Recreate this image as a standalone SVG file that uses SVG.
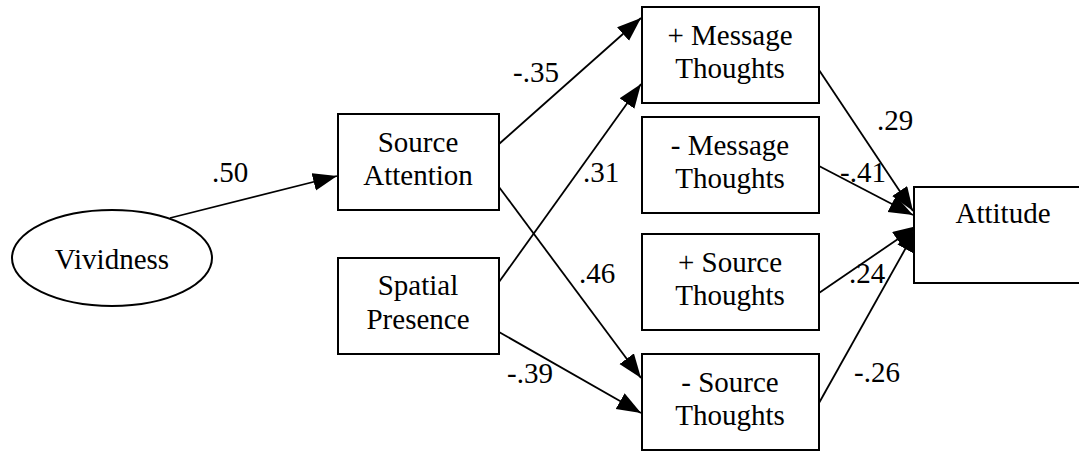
<svg xmlns="http://www.w3.org/2000/svg" width="1079" height="453" viewBox="0 0 1079 453">
<style>
.box{fill:#fff;stroke:#000;stroke-width:2}
text{font-family:'Liberation Serif','Times New Roman',serif;font-size:29px;fill:#000;text-anchor:middle}
.e{fill:none;stroke:#000;stroke-width:1.8}
</style>
<defs>
<marker id="ah" markerUnits="userSpaceOnUse" markerWidth="26" markerHeight="20" refX="24" refY="9" orient="auto">
<path d="M0,0 L24,9 L0,18 z" fill="#000"/>
</marker>
</defs>
<rect width="1079" height="453" fill="#fff"/>
<g id="connectors">
<line class="e" x1="170" y1="218" x2="337" y2="176" marker-end="url(#ah)"/>
<line class="e" x1="499" y1="144" x2="641" y2="18" marker-end="url(#ah)"/>
<line class="e" x1="499" y1="282" x2="641" y2="84" marker-end="url(#ah)"/>
<line class="e" x1="499" y1="187" x2="641" y2="378" marker-end="url(#ah)"/>
<line class="e" x1="499" y1="332" x2="641" y2="413" marker-end="url(#ah)"/>
<line class="e" x1="819" y1="70" x2="913" y2="211" marker-end="url(#ah)"/>
<line class="e" x1="819" y1="166" x2="913" y2="215" marker-end="url(#ah)"/>
<line class="e" x1="819" y1="293" x2="917" y2="226" marker-end="url(#ah)"/>
<line class="e" x1="819" y1="403" x2="917" y2="228" marker-end="url(#ah)"/>
<text x="230" y="182">.50</text>
<text x="536" y="82">-.35</text>
<text x="601" y="182">.31</text>
<text x="597" y="283">.46</text>
<text x="530" y="383">-.39</text>
<text x="895" y="130">.29</text>
<text x="863" y="182">-.41</text>
<text x="867" y="283">.24</text>
<text x="877" y="382">-.26</text>
</g>
<g id="vividness">
<ellipse cx="112" cy="258" rx="100" ry="48" fill="#fff" stroke="#000" stroke-width="2"/>
<text x="112" y="269">Vividness</text>
</g>
<g id="source-attention">
<rect class="box" x="338" y="114" width="161" height="96"/>
<text x="418" y="152">Source</text>
<text x="418" y="185">Attention</text>
</g>
<g id="spatial-presence">
<rect class="box" x="338" y="258" width="161" height="96"/>
<text x="418" y="295">Spatial</text>
<text x="418" y="329">Presence</text>
</g>
<g id="pos-message">
<rect class="box" x="642" y="7" width="177" height="96"/>
<text x="730" y="45">+ Message</text>
<text x="730" y="78">Thoughts</text>
</g>
<g id="neg-message">
<rect class="box" x="642" y="117" width="177" height="96"/>
<text x="730" y="155">- Message</text>
<text x="730" y="188">Thoughts</text>
</g>
<g id="pos-source">
<rect class="box" x="642" y="234" width="177" height="96"/>
<text x="730" y="272">+ Source</text>
<text x="730" y="305">Thoughts</text>
</g>
<g id="neg-source">
<rect class="box" x="642" y="354" width="177" height="96"/>
<text x="730" y="392">- Source</text>
<text x="730" y="425">Thoughts</text>
</g>
<g id="attitude">
<rect class="box" x="914" y="187" width="170" height="96"/>
<text x="1003" y="223">Attitude</text>
</g>
</svg>
